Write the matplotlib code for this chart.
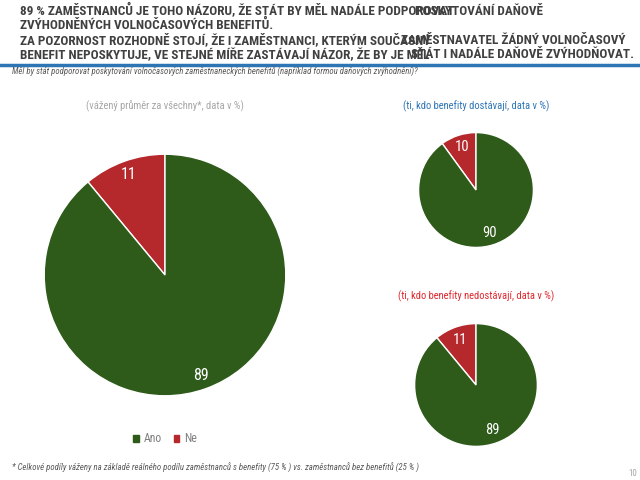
import matplotlib.pyplot as plt
from matplotlib.patches import Patch

# data
labels = ['Ne', 'Ano']
all_vals = [11, 89]
with_vals = [10, 90]
without_vals = [11, 89]
colors = ['#B5282B', '#2E5B1A']

plt.rcParams['font.family'] = ['Roboto Condensed', 'DejaVu Sans']

W, H = 640, 480
fig = plt.figure(figsize=(6.4, 4.8), dpi=100)

def px(x, y):
    # pixel coords (from top-left) -> figure fraction
    return x / W, 1 - y / H

def pie_axes(cx, cy, r, vals, dist, fs):
    ax = fig.add_axes([(cx - r) / W, 1 - (cy + r) / H, 2 * r / W, 2 * r / H])
    ax.pie(vals, colors=colors, startangle=90, counterclock=True,
           autopct='%d', pctdistance=dist,
           wedgeprops=dict(edgecolor='white', linewidth=1),
           textprops=dict(color='white', fontsize=fs))
    ax.set_xlim(-1.01, 1.01)
    ax.set_ylim(-1.01, 1.01)
    ax.set_aspect('equal')
    return ax

ax1 = pie_axes(165, 275, 122, all_vals, 0.88, 11.5)
ax2 = pie_axes(476, 190, 58, with_vals, 0.78, 10.5)
ax3 = pie_axes(476, 385, 62, without_vals, 0.78, 10.5)

# titles (overlapping runs as in the source slide)
tkw = dict(fontsize=9.5, fontweight='semibold', color='#404040', va='baseline', ha='left')
fig.text(*px(20, 15), '89 % ZAMĚSTNANCŮ JE TOHO NÁZORU, ŽE STÁT BY MĚL NADÁLE PODPOROVAT', **tkw)
fig.text(*px(415, 15), 'POSKYTOVÁNÍ DAŇOVĚ', **tkw)
fig.text(*px(20, 29), 'ZVÝHODNĚNÝCH VOLNOČASOVÝCH BENEFITŮ.', **tkw)
fig.text(*px(20, 44), 'ZA POZORNOST ROZHODNĚ STOJÍ, ŽE I ZAMĚSTNANCI, KTERÝM SOUČASNÝ', **tkw)
fig.text(*px(401, 44), 'ZAMĚSTNAVATEL ŽÁDNÝ VOLNOČASOVÝ', **tkw)
fig.text(*px(20, 58), 'BENEFIT NEPOSKYTUJE, VE STEJNÉ MÍŘE ZASTÁVAJÍ NÁZOR, ŽE BY JE MĚL', **tkw)
fig.text(*px(411, 58), 'STÁT I NADÁLE DAŇOVĚ ZVÝHODŇOVAT.', **tkw)

fig.add_artist(plt.Line2D([0, 1], [1 - 65 / H, 1 - 65 / H], color='#2E75B6', lw=2.5,
                          transform=fig.transFigure))

fig.text(*px(12, 75), 'Měl by stát podporovat poskytování volnočasových zaměstnaneckých benefitů '
         '(například formou daňových zvýhodnění)?', fontsize=6.3, style='italic',
         color='#595959', va='baseline')

fig.text(*px(165, 106), '(vážený průměr za všechny*, data v %)', fontsize=7.6,
         color='#A6A6A6', ha='center', va='center')
fig.text(*px(476, 106), '(ti, kdo benefity dostávají, data v %)', fontsize=7.6,
         color='#2E75B6', ha='center', va='center')
fig.text(*px(476, 296), '(ti, kdo benefity nedostávají, data v %)', fontsize=7.6,
         color='#E0282E', ha='center', va='center')

handles = [Patch(color=colors[1], label='Ano'), Patch(color=colors[0], label='Ne')]
fig.legend(handles=handles, loc='center', bbox_to_anchor=px(165, 439), ncol=2,
           frameon=False, fontsize=8.5, handlelength=0.5, handleheight=0.5,
           handletextpad=0.4, columnspacing=1.0, labelcolor='#808080')

fig.text(*px(12, 471), '* Celkové podíly váženy na základě reálného podílu zaměstnanců s benefity '
         '(75 % ) vs. zaměstnanců bez benefitů (25 % )', fontsize=6.3, style='italic',
         color='#595959', va='baseline')
fig.text(*px(637, 476), '10', fontsize=6.5, color='#A6A6A6', ha='right', va='baseline')

fig.savefig('out.png', dpi=100)
